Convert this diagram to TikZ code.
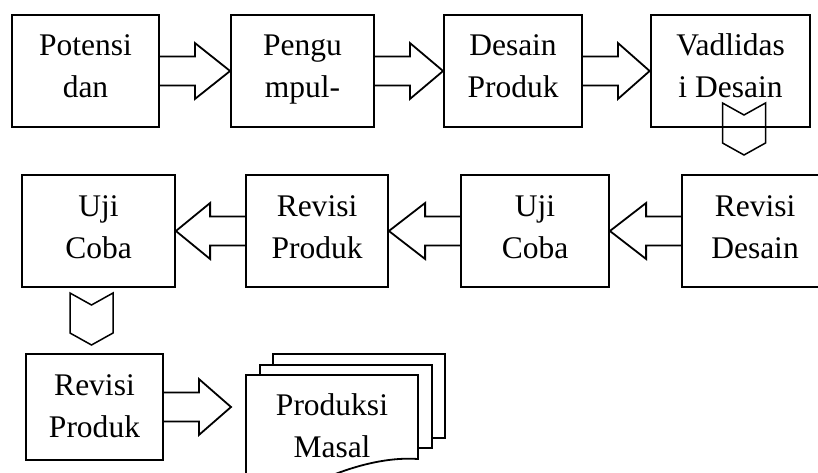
\documentclass[tikz,border=0pt]{standalone}
\usepackage{fontspec}
\setmainfont{Liberation Serif}
\usetikzlibrary{calc}
\newcommand\stA{\rule[-15pt]{0pt}{42pt}}
\newcommand\stB{\rule[-12pt]{0pt}{42pt}}
% right-pointing block arrow from node #1 to point #2
\newcommand\rarr[2]{%
  \draw[blockarrow] ($(#1.east)+(0,-14.5)$) -- ++(35,0) -- ++(0,-13.5) -- (#2)
    -- ($(#1.east)+(35,28)$) -- ++(0,-13.5) -- ($(#1.east)+(0,14.5)$);}
% left-pointing block arrow from node #1 to point #2
\newcommand\larr[2]{%
  \draw[blockarrow] ($(#1.west)+(0,-14.5)$) -- ++(-35,0) -- ++(0,-13.5) -- (#2)
    -- ($(#1.west)+(-35,28)$) -- ++(0,-13.5) -- ($(#1.west)+(0,14.5)$);}
% downward chevron with top centre at #1
\newcommand\chev[1]{%
  \draw[blockarrow,line width=1.5pt,shift={(#1)}] (-21.5,0) -- (0,12) -- (21.5,0) -- (21.5,40)
    -- (0,52) -- (-21.5,40) -- cycle;}
\begin{document}
\begin{tikzpicture}[x=1pt,y=-1pt,
  lw/.style={line width=1.8pt},
  txt/.style={inner sep=0pt,align=center,font=\fontsize{31.5}{42}\selectfont},
  stepbox/.style={draw,lw,rectangle,txt,minimum height=112pt},
  blockarrow/.style={draw,lw,line join=miter},
  docpage/.style={draw,lw,fill=white,line join=miter},
]
\clip (0,0) rectangle (818,473);
% row 1
\node[stepbox,minimum width=147pt] (b1) at (85.5,71) {\stA Potensi\\\stA dan};
\node[stepbox,minimum width=143pt] (b2) at (302.5,71) {\stA Pengu\\\stA mpul-};
\node[stepbox,minimum width=138pt] (b3) at (513,71) {\stA Desain\\\stA Produk};
\node[stepbox,minimum width=159pt,line width=2.7pt] (b4) at (730.5,71) {\stA Vadlidas\\\stA i Desain};
% row 2
\node[stepbox,minimum width=153pt] (b5) at (98.5,231) {\stA Uji\\\stA Coba};
\node[stepbox,minimum width=142pt] (b6) at (317,231) {\stA Revisi\\\stA Produk};
\node[stepbox,minimum width=148pt] (b7) at (535,231) {\stA Uji\\\stA Coba};
\node[stepbox,minimum width=146pt] (b8) at (755,231) {\stA Revisi\\\stA Desain};
% row 3
\node[stepbox,minimum width=137pt,minimum height=106pt] (b9) at (94.5,407) {\stB Revisi\\\stB Produk};
% multi-document
\draw[docpage] (273,380) -- (273,354) -- (445,354) -- (445,438) -- (420,438);
\draw[docpage] (260,390) -- (260,365) -- (432,365) -- (432,448) -- (410,448);
\draw[docpage] (246,490) -- (246,375) -- (418,375) -- (418,459)
  .. controls (390,457) and (350,464) .. (300,490) -- cycle;
\node[txt] (doc) at (332,430) {\stA Produksi\\\stA Masal};
\coordinate (docin) at (231,407);
% connectors
\rarr{b1}{b2.west}
\rarr{b2}{b3.west}
\rarr{b3}{b4.west}
\larr{b8}{b7.east}
\larr{b7}{b6.east}
\larr{b6}{b5.east}
\rarr{b9}{docin}
\coordinate (d1) at (744,103);
\coordinate (d2) at (91.5,293);
\chev{d1}
\chev{d2}
\end{tikzpicture}
\end{document}
